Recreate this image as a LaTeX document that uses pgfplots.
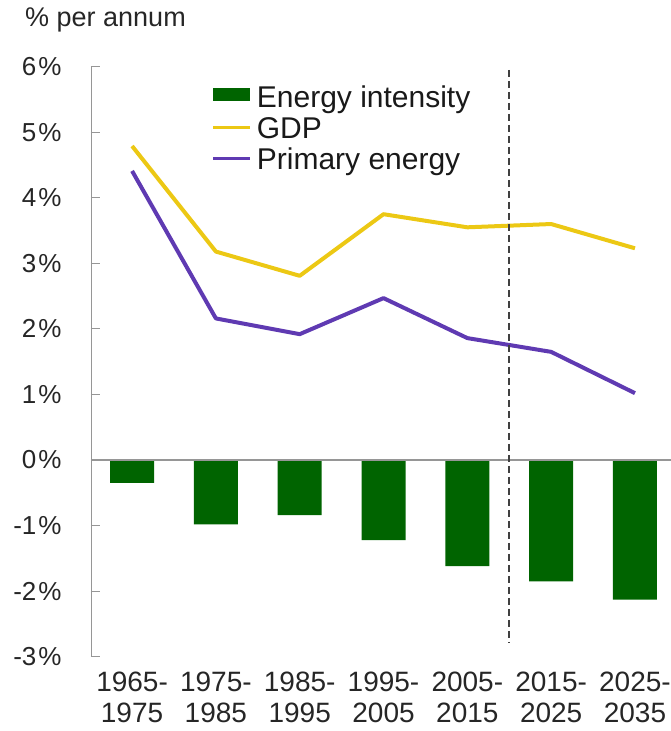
\documentclass[border=0pt]{standalone}
\usepackage{fontspec}
\setmainfont{Liberation Sans}
\usepackage{pgfplots}
\pgfplotsset{compat=1.18}
\definecolor{barGreen}{RGB}{0,100,0}
\definecolor{gdpYellow}{RGB}{236,200,20}
\definecolor{pePurple}{RGB}{95,58,178}
\definecolor{axGray}{RGB}{150,150,150}
\begin{document}
\begin{tikzpicture}
\begin{axis}[
  at={(91pt,74.3pt)}, anchor=south west,
  scale only axis, width=580pt, height=590pt,
  xmin=-0.49, xmax=6.43, ymin=-3, ymax=6,
  axis x line*=bottom, axis y line*=left,
  x axis line style={draw=none},
  y axis line style={axGray, line width=0.9pt},
  xtick={0,...,6},
  xticklabels={{1965-\\1975},{1975-\\1985},{1985-\\1995},{1995-\\2005},{2005-\\2015},{2015-\\2025},{2025-\\2035}},
  xtick style={draw=none},
  xticklabel style={align=center, inner sep=0pt, yshift=-15.3pt, font=\fontsize{28}{31}\selectfont, text=black!85},
  ytick={-3,...,6},
  yticklabels={-3\kern2pt\%,-2\kern2pt\%,-1\kern2pt\%,0\kern2pt\%,1\kern2pt\%,2\kern2pt\%,3\kern2pt\%,4\kern2pt\%,5\kern2pt\%,6\kern2pt\%},
  yticklabel style={inner sep=0pt, xshift=-29.3pt, font=\fontsize{26}{29}\selectfont, text=black!85},
  tick align=inside, major tick length=9pt,
  ytick style={axGray, line width=0.9pt},
  legend style={draw=none, fill=none, inner sep=0pt, outer sep=0pt,
    at={(axis description cs:0,1)}, anchor=north west, xshift=120.7pt, yshift=-18pt,
    font=\fontsize{30}{33}\selectfont, text=black!90, row sep=1pt, column sep=5pt,
    nodes={inner sep=0pt, text height=22.5pt, text depth=7.5pt}},
  legend cell align=left,
]
\addplot[ybar, bar width=44pt, fill=barGreen, draw=none,
  legend image code/.code={\fill[barGreen] (0pt,-1pt) rectangle (37pt,12pt);}]
  coordinates {(0,-0.35) (1,-0.98) (2,-0.84) (3,-1.22) (4,-1.62) (5,-1.85) (6,-2.13)};
\addlegendentry{Energy intensity}
\addplot[gdpYellow, line width=4pt, line join=round,
  legend image code/.code={\draw[gdpYellow, line width=3.2pt] (0pt,3pt) -- (37pt,3pt);}]
  coordinates {(0,4.79) (1,3.18) (2,2.81) (3,3.75) (4,3.55) (5,3.60) (6,3.23)};
\addlegendentry{GDP}
\addplot[pePurple, line width=4pt, line join=round,
  legend image code/.code={\draw[pePurple, line width=3.2pt] (0pt,3pt) -- (37pt,3pt);}]
  coordinates {(0,4.41) (1,2.16) (2,1.92) (3,2.47) (4,1.86) (5,1.65) (6,1.02)};
\addlegendentry{Primary energy}
\draw[axGray, line width=1.2pt] (axis cs:-0.49,0) -- (axis cs:6.43,0);
\draw[black!75, line width=1.8pt, dash pattern=on 7pt off 4pt] (axis cs:4.5,5.95) -- (axis cs:4.5,-2.78);
\end{axis}
\node[anchor=base west, inner sep=0pt, font=\fontsize{27}{30}\selectfont, text=black!85] at (25pt,704.3pt) {\% per annum};
\pgfresetboundingbox
\useasboundingbox (0,0) rectangle (671pt,731pt);
\end{tikzpicture}
\end{document}
